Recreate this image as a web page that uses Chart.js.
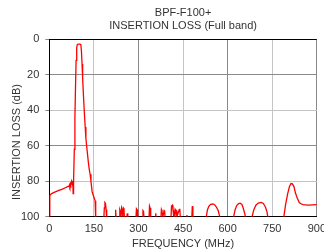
<!DOCTYPE html>
<html>
<head>
<meta charset="utf-8">
<script src="https://cdn.jsdelivr.net/npm/chart.js@4/dist/chart.umd.min.js"></script>
<style>
  html, body { margin: 0; padding: 0; background: #fff; overflow: hidden; }
  #wrap { width: 332px; height: 251px; }
</style>
</head>
<body>
<div id="wrap"><canvas id="lossChart"></canvas></div>
<script>
const titleLines = ['BPF-F100+', 'INSERTION LOSS (Full band)'];
const xTitle = 'FREQUENCY (MHz)';
const yTitle = 'INSERTION LOSS (dB)';
const xTicks = [0, 150, 300, 450, 600, 750, 900];
const yTicks = [0, 20, 40, 60, 80, 100];

// frequency (MHz) and insertion loss (dB); values past 100 fall below the plot
const freqMHz = [
  0, 1, 2, 4, 9, 20, 30, 42, 52, 60, 66, 68, 69, 71, 72, 74, 75, 76, 77, 79,
  80, 81, 82, 84, 86, 88, 90, 92, 94, 97, 103, 106, 108, 110, 112, 115, 118, 120.6, 123, 126,
  131, 134, 137, 140, 144, 150, 154, 156,
  183, 185, 187, 189, 191, 193,
  221, 223, 225,
  235, 237, 239, 241, 243, 245, 247, 249, 251, 253,
  260, 262, 264,
  291, 293, 295, 297,
  313, 315, 317, 319,
  335, 337, 339, 341,
  356, 358, 360,
  375, 377, 379, 382, 386, 388, 390,
  409, 411, 414, 416, 418, 420, 422, 425, 427, 429, 437, 439, 441,
  461, 463, 465,
  479, 481, 483,
  526, 528, 532, 537, 543, 550, 556, 562, 568, 572, 575,
  618, 620, 625, 631, 637, 642, 648, 653, 658, 661,
  680, 682, 688, 695, 703, 713, 720, 727, 732, 735, 737,
  787, 789, 795, 802, 808, 813, 818, 823, 828, 834, 841, 848, 854, 870, 885, 900
];
const lossDb = [
  100, 100, 88, 87.5, 86.8, 86, 85.3, 84.6, 83.8, 83.2, 82.8, 82, 82.8, 81.5, 82, 80.6, 81.2, 80.2, 80.8, 79.7,
  87, 84, 80, 62, 44, 27, 12, 5, 3.2, 2.9, 2.9, 3.2, 7, 14, 22, 32.6, 42, 49.5, 56, 61,
  69, 73, 76, 80, 86, 89, 91, 102,
  102, 95, 92, 92.5, 96, 102,
  102, 96, 102,
  102, 96, 97, 100, 95, 96, 100, 95, 95.5, 102,
  102, 98, 102,
  102, 95.5, 96, 102,
  102, 96.5, 97, 102,
  102, 94, 95, 102,
  102, 98, 102,
  102, 96, 97, 100, 96.5, 97, 102,
  102, 94, 93.5, 96, 99, 97, 100, 96, 96.5, 100, 96, 95.5, 102,
  102, 99, 102,
  102, 94, 102,
  102, 100, 96, 94, 93, 92.8, 93.2, 94.5, 96.5, 99, 102,
  102, 100, 96, 93.5, 92.5, 92.3, 93, 95.5, 98.5, 102,
  102, 100, 96, 93.5, 92.3, 91.9, 92.5, 94.5, 97, 100, 102,
  102, 100, 93, 87, 83, 81.3, 81.5, 83, 86.5, 89.5, 92, 92.8, 93.2, 93.4, 93.3, 93.2
];

const font = { family: 'Liberation Sans, Arial, sans-serif', size: 11 };
const textColor = '#333';

const textPlugin = {
  id: 'texts',
  afterDraw(chart) {
    const ctx = chart.ctx;
    const a = chart.chartArea;
    const cx = (a.left + a.right) / 2;
    ctx.save();
    // top border of plot
    ctx.strokeStyle = '#000';
    ctx.lineWidth = 1;
    ctx.beginPath();
    ctx.moveTo(a.left, a.top + 0.5);
    ctx.lineTo(a.right, a.top + 0.5);
    ctx.stroke();

    ctx.fillStyle = textColor;
    ctx.font = '11px ' + font.family;
    ctx.textAlign = 'center';
    ctx.textBaseline = 'middle';
    ctx.fillText(titleLines[0], cx, 13);
    ctx.fillText(titleLines[1], cx, 26);
    ctx.fillText(xTitle, cx, 244);

    ctx.translate(17, 142);
    ctx.rotate(-Math.PI / 2);
    ctx.fillText(yTitle, 0, 0);
    ctx.restore();
  }
};

new Chart(document.getElementById('lossChart'), {
  type: 'line',
  data: {
    datasets: [{
      data: freqMHz.map((f, i) => ({ x: f, y: lossDb[i] })),
      borderColor: '#ff0000',
      borderWidth: 1.3,
      pointRadius: 0,
      tension: 0,
      fill: false
    }]
  },
  options: {
    responsive: true,
    maintainAspectRatio: false,
    animation: false,
    layout: { padding: { top: 39, left: 15, right: 0, bottom: 9 } },
    plugins: { legend: { display: false }, tooltip: { enabled: false } },
    scales: {
      x: {
        type: 'linear',
        min: 0,
        max: 900,
        afterBuildTicks: (s) => { s.ticks = xTicks.map(v => ({ value: v })); },
        ticks: { font: font, color: textColor, padding: 6, maxRotation: 0, autoSkip: false },
        grid: {
          drawTicks: false,
          color: (c) => (c.tick && c.tick.value % 300 === 0 ? '#8a8a8a' : '#c4c4c4')
        },
        border: { color: '#000', width: 1 }
      },
      y: {
        reverse: true,
        min: 0,
        max: 100,
        afterBuildTicks: (s) => { s.ticks = yTicks.map(v => ({ value: v })); },
        ticks: { font: font, color: textColor, padding: 6 },
        grid: {
          tickLength: 4,
          tickColor: '#888',
          color: (c) => (c.tick && c.tick.value % 40 === 20 ? '#8a8a8a' : '#c4c4c4')
        },
        border: { color: '#000', width: 1 }
      }
    }
  },
  plugins: [textPlugin]
});
</script>
</body>
</html>
